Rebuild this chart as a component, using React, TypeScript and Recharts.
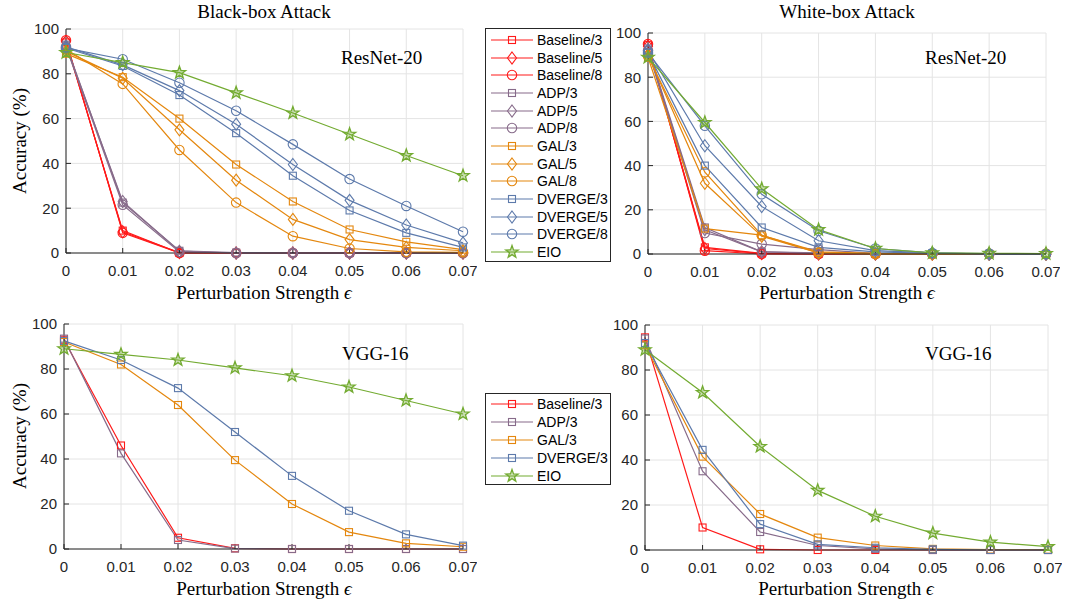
import React from "react";
import { LineChart, Line, XAxis, YAxis, CartesianGrid } from "recharts";

// ---- data ----
const EPS = [0, 0.01, 0.02, 0.03, 0.04, 0.05, 0.06, 0.07];
const Y_TICKS = [0, 20, 40, 60, 80, 100];

// black-box, ResNet-20
const bbResBaseline3 = [94, 10, 0, 0, 0, 0, 0, 0];
const bbResBaseline5 = [94.5, 9.5, 0.2, 0, 0, 0, 0, 0];
const bbResBaseline8 = [95, 9, 0, 0, 0, 0, 0, 0];
const bbResAdp3 = [93, 22.5, 1, 0.2, 0, 0, 0, 0];
const bbResAdp5 = [92.5, 23, 0.8, 0, 0, 0, 0, 0];
const bbResAdp8 = [92, 21.5, 0.5, 0, 0, 0, 0, 0];
const bbResGal3 = [89, 78.5, 60, 39.5, 23, 10.5, 5, 1.5];
const bbResGal5 = [90, 78, 55, 32.5, 15, 6, 2.5, 1];
const bbResGal8 = [91, 75.5, 46, 22.5, 7.5, 2, 0.5, 0.3];
const bbResDverge3 = [91.5, 83.5, 70.5, 53.5, 34.5, 19, 9, 2.5];
const bbResDverge5 = [92, 84, 72.5, 57.5, 39.5, 23.5, 12.5, 4.5];
const bbResDverge8 = [91.5, 86.5, 76, 63.5, 48.5, 33, 21, 9.5];
const bbResEio = [89.5, 85, 80.5, 71.5, 62.5, 53, 43.5, 34.5];

// white-box, ResNet-20
const wbResBaseline3 = [94.5, 3, 0.3, 0, 0, 0, 0, 0];
const wbResBaseline5 = [94, 2.5, 0.2, 0, 0, 0, 0, 0];
const wbResBaseline8 = [95, 1.5, 0, 0, 0, 0, 0, 0];
const wbResAdp3 = [93, 12, 1, 0.5, 0, 0, 0, 0];
const wbResAdp5 = [92.5, 11, 1, 0.3, 0, 0, 0, 0];
const wbResAdp8 = [92, 9.5, 4.5, 2, 0.3, 0, 0, 0];
const wbResGal3 = [89, 11.5, 8.5, 1, 0.3, 0, 0, 0];
const wbResGal5 = [90, 32, 8, 0.5, 0.2, 0, 0, 0];
const wbResGal8 = [89.5, 37, 8.5, 0.5, 0, 0, 0, 0];
const wbResDverge3 = [91, 40, 12, 3, 1, 0.3, 0, 0];
const wbResDverge5 = [92, 49, 21.5, 6, 1.5, 0.5, 0, 0];
const wbResDverge8 = [91, 58, 27, 10.5, 2.5, 0.5, 0.2, 0];
const wbResEio = [89, 59.5, 29.5, 11, 2.5, 0.5, 0.3, 0.2];

// black-box, VGG-16
const bbVggBaseline3 = [93, 46, 5, 0.3, 0, 0, 0, 0];
const bbVggAdp3 = [93.5, 42.5, 4, 0.2, 0, 0, 0, 0];
const bbVggGal3 = [92, 82, 64, 39.5, 20, 7.5, 2.5, 1];
const bbVggDverge3 = [92.5, 84, 71.5, 52, 32.5, 17, 6.5, 1.5];
const bbVggEio = [89, 86.5, 84, 80.5, 77, 72, 66, 60];

// white-box, VGG-16
const wbVggBaseline3 = [94.5, 10, 0.3, 0, 0, 0, 0, 0];
const wbVggAdp3 = [94, 35, 8, 2, 0.5, 0, 0, 0];
const wbVggGal3 = [91, 41.5, 16, 5.5, 2, 0.5, 0.2, 0.1];
const wbVggDverge3 = [92, 44.5, 11.5, 2.5, 1, 0.3, 0, 0];
const wbVggEio = [89, 70, 46, 26.5, 15, 7.5, 3.5, 1.5];

// ---- styling ----
const RED = "#ff1a1a";
const ADP = "#876b8a";
const GAL = "#e4870e";
const DVG = "#5d7aab";
const EIO = "#73ab31";
const SERIF = '"Liberation Serif", "Times New Roman", serif';
const SANS = '"Liberation Sans", Arial, Helvetica, sans-serif';
const INK = "#262626";

type Kind = "square" | "diamond" | "circle" | "star";
type Series = { name: string; color: string; kind: Kind; values: number[] };

const mk = (name: string, color: string, kind: Kind, values: number[]): Series => ({ name, color, kind, values });

const resBlack: Series[] = [
  mk("Baseline/3", RED, "square", bbResBaseline3),
  mk("Baseline/5", RED, "diamond", bbResBaseline5),
  mk("Baseline/8", RED, "circle", bbResBaseline8),
  mk("ADP/3", ADP, "square", bbResAdp3),
  mk("ADP/5", ADP, "diamond", bbResAdp5),
  mk("ADP/8", ADP, "circle", bbResAdp8),
  mk("GAL/3", GAL, "square", bbResGal3),
  mk("GAL/5", GAL, "diamond", bbResGal5),
  mk("GAL/8", GAL, "circle", bbResGal8),
  mk("DVERGE/3", DVG, "square", bbResDverge3),
  mk("DVERGE/5", DVG, "diamond", bbResDverge5),
  mk("DVERGE/8", DVG, "circle", bbResDverge8),
  mk("EIO", EIO, "star", bbResEio),
];

const resWhite: Series[] = [
  mk("Baseline/3", RED, "square", wbResBaseline3),
  mk("Baseline/5", RED, "diamond", wbResBaseline5),
  mk("Baseline/8", RED, "circle", wbResBaseline8),
  mk("ADP/3", ADP, "square", wbResAdp3),
  mk("ADP/5", ADP, "diamond", wbResAdp5),
  mk("ADP/8", ADP, "circle", wbResAdp8),
  mk("GAL/3", GAL, "square", wbResGal3),
  mk("GAL/5", GAL, "diamond", wbResGal5),
  mk("GAL/8", GAL, "circle", wbResGal8),
  mk("DVERGE/3", DVG, "square", wbResDverge3),
  mk("DVERGE/5", DVG, "diamond", wbResDverge5),
  mk("DVERGE/8", DVG, "circle", wbResDverge8),
  mk("EIO", EIO, "star", wbResEio),
];

const vggBlack: Series[] = [
  mk("Baseline/3", RED, "square", bbVggBaseline3),
  mk("ADP/3", ADP, "square", bbVggAdp3),
  mk("GAL/3", GAL, "square", bbVggGal3),
  mk("DVERGE/3", DVG, "square", bbVggDverge3),
  mk("EIO", EIO, "star", bbVggEio),
];

const vggWhite: Series[] = [
  mk("Baseline/3", RED, "square", wbVggBaseline3),
  mk("ADP/3", ADP, "square", wbVggAdp3),
  mk("GAL/3", GAL, "square", wbVggGal3),
  mk("DVERGE/3", DVG, "square", wbVggDverge3),
  mk("EIO", EIO, "star", wbVggEio),
];

function starPoints(cx: number, cy: number, R: number) {
  const r = R * 0.4;
  const pts: string[] = [];
  for (let i = 0; i < 10; i++) {
    const a = -Math.PI / 2 + (i * Math.PI) / 5;
    const rad = i % 2 === 0 ? R : r;
    pts.push(`${cx + rad * Math.cos(a)},${cy + rad * Math.sin(a)}`);
  }
  return pts.join(" ");
}

function Marker({ kind, cx, cy, color }: { kind: Kind; cx: number; cy: number; color: string }) {
  const sw = 1.1;
  if (kind === "square")
    return <rect x={cx - 3.5} y={cy - 3.5} width={7} height={7} fill="none" stroke={color} strokeWidth={sw} />;
  if (kind === "diamond")
    return (
      <polygon
        points={`${cx},${cy - 6} ${cx + 4.5},${cy} ${cx},${cy + 6} ${cx - 4.5},${cy}`}
        fill="none"
        stroke={color}
        strokeWidth={sw}
      />
    );
  if (kind === "circle") return <circle cx={cx} cy={cy} r={4.7} fill="none" stroke={color} strokeWidth={sw} />;
  return <polygon points={starPoints(cx, cy, 6.5)} fill={color} fillOpacity={0.35} stroke={color} strokeWidth={1.3} />;
}

const fmtEps = (v: number) => (v === 0 ? "0" : v.toFixed(2));

const ML = 45;
const MT = 12;
const MR = 14;
const XH = 50;

function Panel({ series, x, y, w, h }: { series: Series[]; x: number; y: number; w: number; h: number }) {
  const data = EPS.map((e, i) => {
    const row: Record<string, number> = { eps: e };
    series.forEach((s) => (row[s.name] = s.values[i]));
    return row;
  });
  const noTick = () => <g />;
  return (
    <div style={{ position: "absolute", left: x - ML, top: y - MT }}>
      <LineChart width={ML + w + MR} height={MT + h + XH} data={data} margin={{ top: MT, right: MR, left: 0, bottom: 0 }}>
        <CartesianGrid stroke="#e4e4e4" strokeWidth={1} />
        <XAxis
          dataKey="eps"
          type="number"
          domain={[0, 0.07]}
          ticks={EPS}
          tickFormatter={fmtEps}
          height={XH}
          interval={0}
          stroke={INK}
          tickSize={-5}
          tickMargin={17}
          tick={{ fill: INK, fontSize: 15, fontFamily: SANS }}
        />
        <YAxis
          type="number"
          domain={[0, 100]}
          ticks={Y_TICKS}
          width={ML}
          interval={0}
          stroke={INK}
          tickSize={-5}
          tickMargin={12}
          tick={{ fill: INK, fontSize: 15, fontFamily: SANS }}
        />
        <XAxis xAxisId="t" orientation="top" dataKey="eps" type="number" domain={[0, 0.07]} ticks={EPS} height={0} stroke={INK} tickSize={-5} tick={noTick} />
        <YAxis yAxisId="r" orientation="right" type="number" domain={[0, 100]} ticks={Y_TICKS} width={0} stroke={INK} tickSize={-5} tick={noTick} />
        {series.map((s) => (
          <Line
            key={s.name}
            dataKey={s.name}
            type="linear"
            stroke={s.color}
            strokeWidth={1.2}
            isAnimationActive={false}
            activeDot={false}
            dot={(p: any) => (
              <Marker key={`${s.name}-${p.index}`} kind={s.kind} cx={p.cx} cy={p.cy} color={s.color} />
            )}
          />
        ))}
      </LineChart>
    </div>
  );
}

function Legend({ series, x, y, w, h, y0, step }: { series: Series[]; x: number; y: number; w: number; h: number; y0: number; step: number }) {
  return (
    <div
      style={{
        position: "absolute",
        left: x,
        top: y,
        width: w,
        height: h,
        border: `1px solid ${INK}`,
        background: "#fff",
        boxSizing: "border-box",
      }}
    >
      {series.map((s, i) => (
        <div key={s.name} style={{ position: "absolute", left: 0, top: y0 + i * step - 9, height: 18, width: w }}>
          <svg width={50} height={18} style={{ position: "absolute", left: 3, top: 0 }}>
            <line x1={2} y1={9} x2={44} y2={9} stroke={s.color} strokeWidth={1.2} />
            <Marker kind={s.kind} cx={23} cy={9} color={s.color} />
          </svg>
          <span
            style={{
              position: "absolute",
              left: 51,
              top: 0,
              lineHeight: "18px",
              fontSize: 14,
              fontFamily: SANS,
              color: "#000",
              whiteSpace: "nowrap",
            }}
          >
            {s.name}
          </span>
        </div>
      ))}
    </div>
  );
}

function Txt({ cx, cy, size, children, rotate, left }: { cx: number; cy: number; size: number; children: React.ReactNode; rotate?: boolean; left?: boolean }) {
  return (
    <div
      style={{
        position: "absolute",
        left: cx,
        top: cy,
        transform: `translate(${left ? "0" : "-50%"}, -50%)${rotate ? " rotate(-90deg)" : ""}`,
        fontFamily: SERIF,
        fontSize: size,
        lineHeight: 1,
        whiteSpace: "nowrap",
        color: "#000",
      }}
    >
      {children}
    </div>
  );
}

export default function App() {
  return (
    <div style={{ position: "absolute", left: 0, top: 0, width: 1065, height: 601, background: "#fff", overflow: "hidden" }}>
      <Panel series={resBlack} x={66} y={29} w={397} h={224} />
      <Panel series={resWhite} x={648} y={33} w={398} h={221} />
      <Panel series={vggBlack} x={64} y={324} w={399} h={225} />
      <Panel series={vggWhite} x={645} y={325} w={403} h={225} />

      <Legend series={resBlack} x={485} y={28} w={126} h={234} y0={11} step={17.67} />
      <Legend series={vggBlack} x={485} y={393} w={126} h={92} y0={10} step={18} />

      <Txt cx={264} cy={11} size={19}>Black-box Attack</Txt>
      <Txt cx={847} cy={11} size={19}>White-box Attack</Txt>

      <Txt cx={341} cy={57} size={19} left>ResNet-20</Txt>
      <Txt cx={925} cy={57} size={19} left>ResNet-20</Txt>
      <Txt cx={342} cy={353} size={19} left>VGG-16</Txt>
      <Txt cx={925} cy={353} size={19} left>VGG-16</Txt>

      <Txt cx={264} cy={292} size={19}>Perturbation Strength <i>ϵ</i></Txt>
      <Txt cx={847} cy={292} size={19}>Perturbation Strength <i>ϵ</i></Txt>
      <Txt cx={264} cy={588} size={19}>Perturbation Strength <i>ϵ</i></Txt>
      <Txt cx={846} cy={588} size={19}>Perturbation Strength <i>ϵ</i></Txt>

      <Txt cx={19} cy={141} size={19} rotate>Accuracy (%)</Txt>
      <Txt cx={19} cy={436} size={19} rotate>Accuracy (%)</Txt>
    </div>
  );
}
